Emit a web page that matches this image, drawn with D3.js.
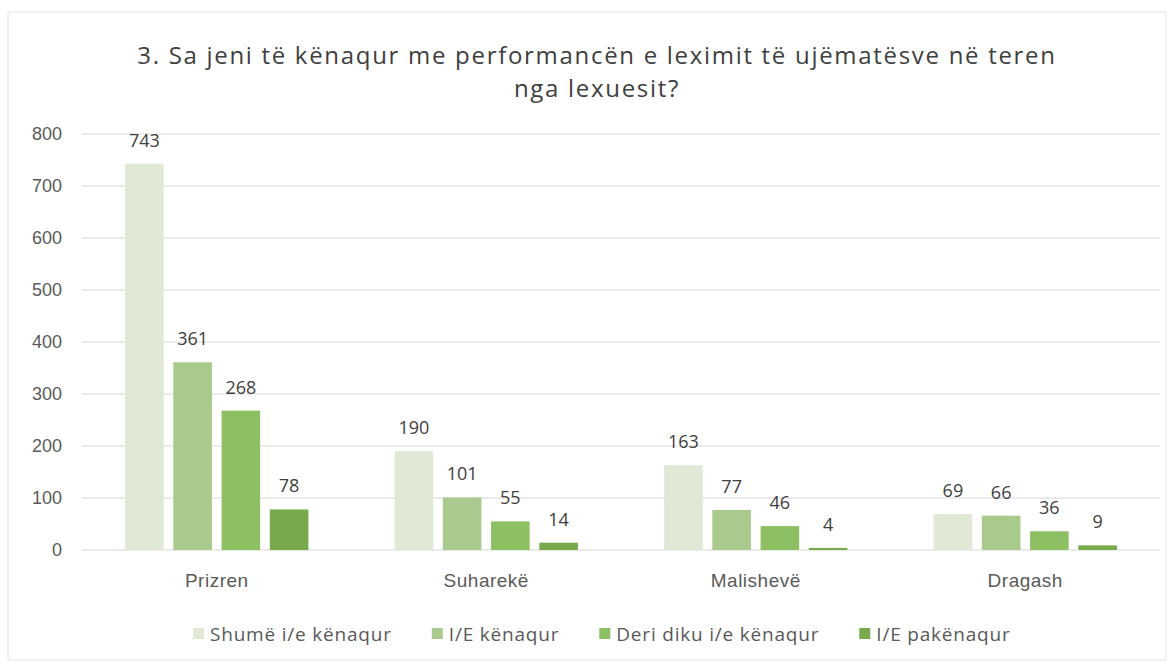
<!DOCTYPE html>
<meta charset="utf-8">
<title>Kënaqshmëria me leximin e ujëmatësve</title>
<style>
body { margin: 0; background: #fff; }
svg { font-family: "Open Sans", sans-serif; }
.grid line { stroke: #e4e4e4; stroke-width: 1.5px; }
.yaxis text { fill: #5a5a5a; font-size: 18px; }
.xaxis text { fill: #5a5a5a; font-size: 19px; letter-spacing: 0.5px; }
.lbl { fill: #404040; font-size: 18px; }
</style>
<body>
<svg width="1174" height="666" id="svg"></svg>
<script src="https://d3js.org/d3.v7.min.js"></script>
<script>

var regions = ["Prizren", "Suharekë", "Malishevë", "Dragash"];
var series = ["Shumë i/e kënaqur", "I/E kënaqur", "Deri diku i/e kënaqur", "I/E pakënaqur"];
var shume = [743, 190, 163, 69];
var kenaqur = [361, 101, 77, 66];
var deriDiku = [268, 55, 46, 36];
var pakenaqur = [78, 14, 4, 9];
var yTicks = [0, 100, 200, 300, 400, 500, 600, 700, 800];

var colors = ["#dfe9d5", "#a9c98d", "#8dbf63", "#78a94b"];
var values = [shume, kenaqur, deriDiku, pakenaqur];

var svg = d3.select("svg"),
    width = +svg.attr("width"),
    height = +svg.attr("height");

// chart frame
svg.append("rect")
    .attr("x", 8).attr("y", 12)
    .attr("width", 1158).attr("height", 648)
    .attr("fill", "none")
    .attr("stroke", "#e6e6e6");

var title = svg.append("text")
    .attr("text-anchor", "middle")
    .attr("fill", "#404040")
    .style("font-size", "24px")
    .style("letter-spacing", "1.7px");
title.append("tspan").attr("x", 597).attr("y", 64)
    .text("3. Sa jeni të kënaqur me performancën e leximit të ujëmatësve në teren");
title.append("tspan").attr("x", 597).attr("y", 97)
    .text("nga lexuesit?");

var x0 = d3.scaleBand().domain(regions).range([82, 1160])
    .paddingInner(0.32).paddingOuter(0.16);
var x1 = d3.scaleBand().domain(d3.range(series.length))
    .range([0, x0.bandwidth()]).paddingInner(0.2);
var y = d3.scaleLinear().domain([0, 800]).range([550, 134]);

svg.append("g").attr("class", "grid")
  .selectAll("line")
  .data(yTicks)
  .enter().append("line")
    .attr("x1", 82).attr("x2", 1160)
    .attr("y1", function(d) { return y(d); })
    .attr("y2", function(d) { return y(d); });

var yAxis = svg.append("g").attr("class", "yaxis")
    .attr("transform", "translate(62,0)")
    .call(d3.axisLeft(y).tickValues(yTicks).tickSize(0).tickPadding(0));
yAxis.select(".domain").remove();

var xAxis = svg.append("g").attr("class", "xaxis")
    .attr("transform", "translate(0,573)")
    .call(d3.axisBottom(x0).tickSize(0).tickPadding(0));
xAxis.select(".domain").remove();
xAxis.selectAll("text").attr("dy", "0.71em");

var group = svg.selectAll(".region")
    .data(regions)
    .enter().append("g")
    .attr("class", "region")
    .attr("transform", function(d) { return "translate(" + x0(d) + ",0)"; });

group.selectAll("rect")
    .data(function(d, i) { return values.map(function(v, s) { return {s: s, v: v[i]}; }); })
    .enter().append("rect")
    .attr("x", function(d) { return x1(d.s); })
    .attr("width", x1.bandwidth())
    .attr("y", function(d) { return y(d.v); })
    .attr("height", function(d) { return y(0) - y(d.v); })
    .attr("fill", function(d) { return colors[d.s]; });

group.selectAll("text")
    .data(function(d, i) { return values.map(function(v, s) { return {s: s, v: v[i]}; }); })
    .enter().append("text")
    .attr("class", "lbl")
    .attr("text-anchor", "middle")
    .attr("x", function(d) { return x1(d.s) + x1.bandwidth() / 2; })
    .attr("y", function(d) { return y(d.v) - 17; })
    .text(function(d) { return d.v; });

// legend
var legend = svg.append("g").attr("transform", "translate(0,634)");
var lx = 193;
series.forEach(function(name, i) {
  legend.append("rect")
      .attr("x", lx).attr("y", -6)
      .attr("width", 11).attr("height", 11)
      .attr("fill", colors[i]);
  var t = legend.append("text")
      .attr("x", lx + 17).attr("y", 0)
      .attr("dy", "0.35em")
      .attr("fill", "#595959")
      .style("font-size", "19px")
      .style("letter-spacing", "0.8px")
      .text(name);
  lx += 17 + t.node().getComputedTextLength() + 40;
});

</script>
</body>
